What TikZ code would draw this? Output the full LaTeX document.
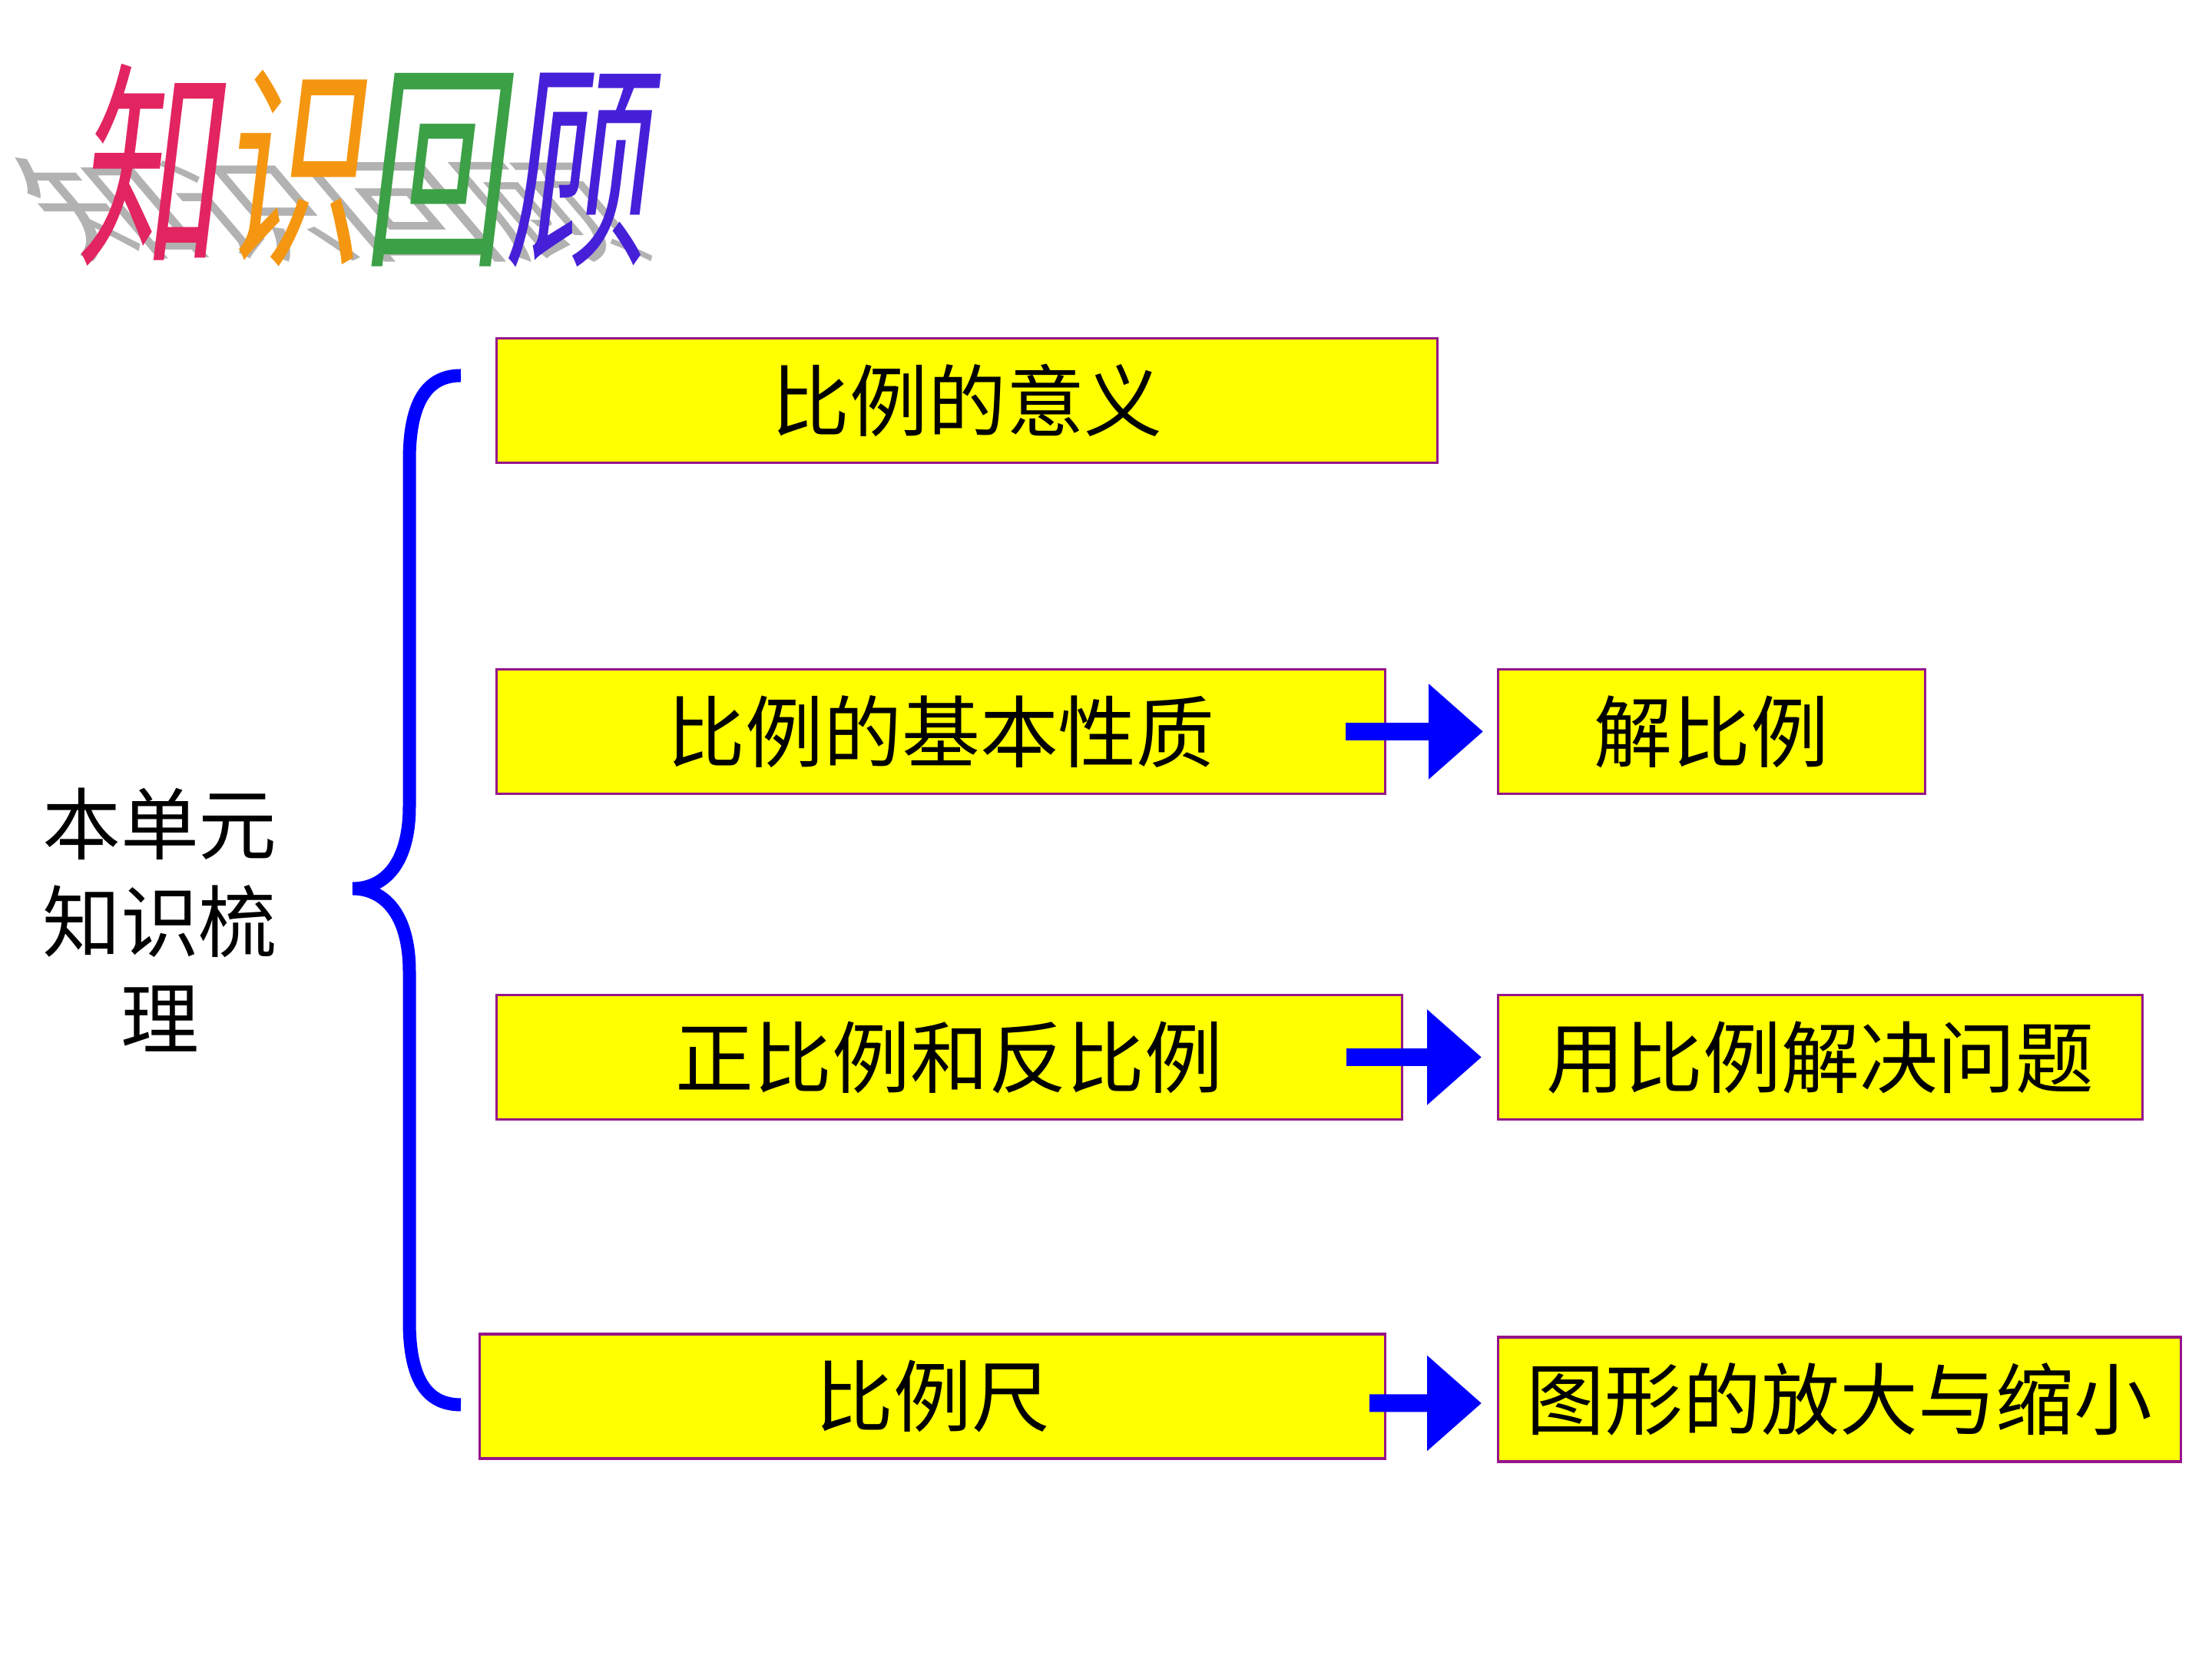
\documentclass[tikz,border=0pt]{standalone}
\usepackage{fontspec}
\newfontfamily\cjk{Noto Sans CJK SC}
\usetikzlibrary{arrows.meta,positioning}
\definecolor{boxyellow}{RGB}{255,255,0}
\definecolor{boxline}{RGB}{150,20,140}
\definecolor{braceblue}{RGB}{0,0,255}
\definecolor{zhired}{RGB}{226,36,96}
\definecolor{shiorange}{RGB}{244,150,16}
\definecolor{huigreen}{RGB}{60,160,70}
\definecolor{gublue}{RGB}{70,32,216}

\begin{document}
\begin{tikzpicture}[every node/.style={font=\cjk\fontsize{29}{35}\selectfont, align=center},
    topic/.style={draw=boxline, line width=0.9pt, fill=boxyellow, minimum height=16.2mm, inner sep=0pt, anchor=west},
    goto/.style={-{Triangle[length=7.1mm,width=12mm]}, line width=2.3mm, draw=braceblue}]
  \useasboundingbox (0,0) rectangle (28.8,21.6);

  % title with its shadow
  \begin{scope}[shift={(0.95,18.3)}, xslant=-0.85, yscale=0.7, xscale=0.9]
    \node (titleshadow) [anchor=base west, transform shape, inner sep=0pt, text=gray!60,
      font=\cjk\fontsize{60}{60}\selectfont] at (0,0) {知识回顾};
  \end{scope}
  \begin{scope}[shift={(1.0,18.35)}, xslant=0.12, yscale=1.36, xscale=0.88]
    \node (title) [anchor=base west, transform shape, inner sep=0pt,
      font=\cjk\fontsize{60}{60}\selectfont] at (0,0)
      {\textcolor{zhired}{知}\textcolor{shiorange}{识}\textcolor{huigreen}{回}\textcolor{gublue}{顾}};
  \end{scope}

  % left label and brace
  \node (unit) at (2.08,9.62) [font=\cjk\fontsize{29}{36}\selectfont] {本单元\\知识梳\\理};
  \draw[braceblue, line width=1.7mm]
    (6.00,16.71) .. controls (5.55,16.71) and (5.33,16.35) .. (5.33,15.6)
    -- (5.33,11.1) .. controls (5.33,10.35) and (5.0,10.03) .. (4.59,10.03)
    .. controls (5.0,10.03) and (5.33,9.7) .. (5.33,8.95)
    -- (5.33,4.4) .. controls (5.33,3.65) and (5.55,3.31) .. (6.00,3.31);

  % boxes
  \node (meaning) [topic, minimum width=122.5mm] at (6.45,16.385) {比例的意义};
  \node (property) [topic, minimum width=115.7mm] at (6.45,12.075) {比例的基本性质};
  \node (solve) [topic, minimum width=55.6mm] at (19.49,12.075) {解比例};
  \node (direct) [topic, minimum width=117.9mm] at (6.45,7.835) {正比例和反比例};
  \node (apply) [topic, minimum width=83.9mm] at (19.49,7.835) {用比例解决问题};
  \node (scale) [topic, minimum width=117.9mm] at (6.23,3.42) {比例尺};
  \node (zoom) [topic, minimum width=88.9mm] at (19.49,3.38) {图形的放大与缩小};

  % arrows
  \draw[goto] ([xshift=-5.3mm]property.east) -- ([xshift=-1.8mm]solve.west);
  \draw[goto] ([xshift=-7.4mm]direct.east) -- ([xshift=-2mm]apply.west);
  \draw[goto] ([xshift=-2.2mm,yshift=-0.9mm]scale.east) -- ([xshift=-2mm,yshift=-0.5mm]zoom.west);
\end{tikzpicture}
\end{document}
